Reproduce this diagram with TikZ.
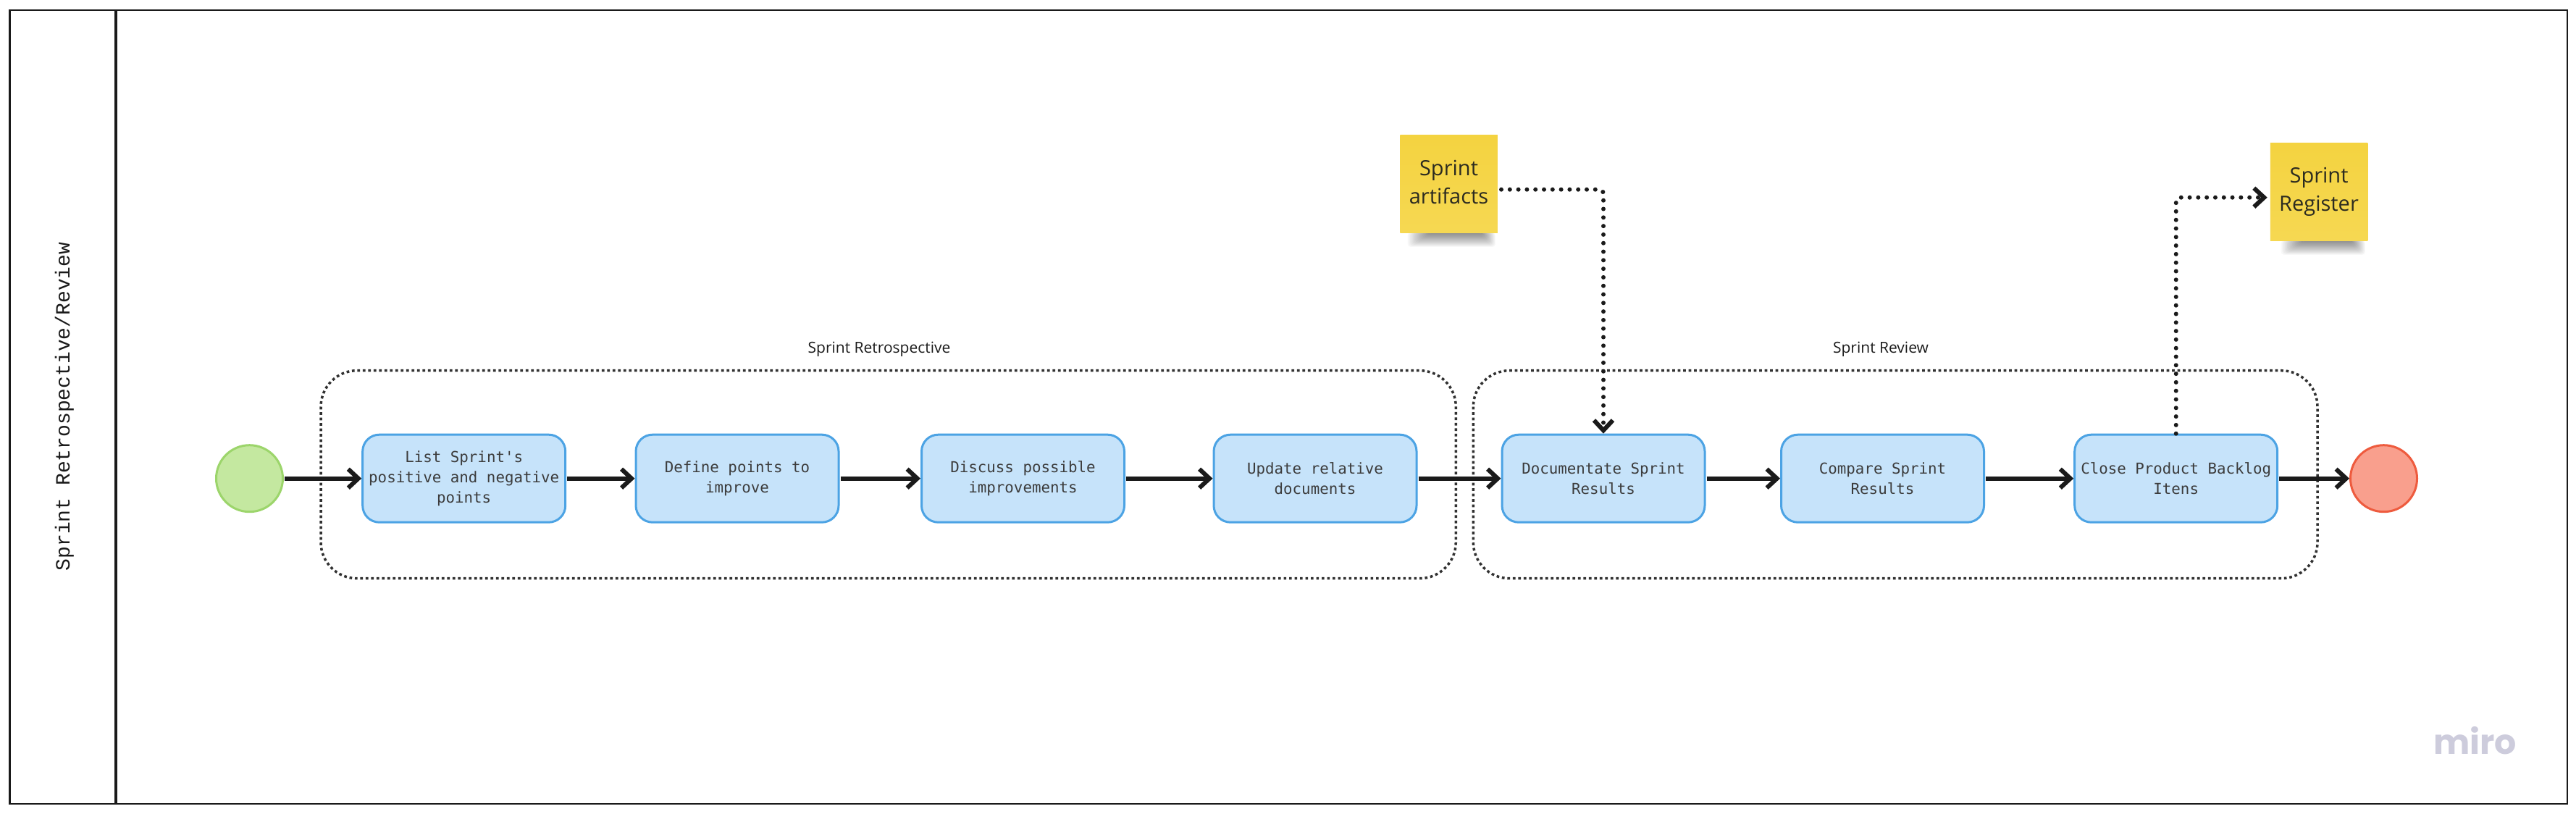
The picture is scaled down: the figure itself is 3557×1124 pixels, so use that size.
\documentclass[tikz,border=0pt]{standalone}
\usepackage{fontspec}
\setmainfont{Open Sans}
\setmonofont{DejaVu Sans Mono}
\newfontfamily\laneface{Liberation Mono}
\newfontfamily\miroface{Poppins}
\usetikzlibrary{arrows.meta}
\definecolor{ink}{HTML}{1A1A1A}
\definecolor{boxfill}{HTML}{C6E3FA}
\definecolor{boxline}{HTML}{4CA3E4}
\definecolor{startfill}{HTML}{C4E8A0}
\definecolor{startline}{HTML}{9CD56B}
\definecolor{endfill}{HTML}{F99F8D}
\definecolor{endline}{HTML}{EE5B3E}
\definecolor{notetop}{HTML}{F4D340}
\definecolor{notebot}{HTML}{F6D852}
\definecolor{notetext}{HTML}{2C2B20}
\definecolor{marklogo}{HTML}{CDCCDC}
\newcommand\stickytext[2]{\raisebox{6pt}{\begin{tabular}{@{}c@{}}#1\\#2\end{tabular}}}
\tikzset{
  frameline/.style={draw=ink,line width=2.8pt},
  laneline/.style={draw=ink,line width=4.5pt},
  taskbox/.style={draw=boxline,fill=boxfill,line width=3pt,rounded corners=23pt,minimum width=280pt,minimum height=121pt,inner sep=0pt,outer sep=1.5pt,align=center,text=ink!85,font=\ttfamily\fontsize{20.8}{28}\selectfont},
  startdot/.style={circle,draw=startline,fill=startfill,line width=3pt,minimum size=92pt,inner sep=0pt,outer sep=1.5pt},
  enddot/.style={circle,draw=endline,fill=endfill,line width=3pt,minimum size=92pt,inner sep=0pt,outer sep=1.5pt},
  note/.style={top color=notetop,bottom color=notebot,minimum width=134.5pt,minimum height=135pt,inner sep=0pt,outer sep=0pt,text=notetext,font=\fontsize{29}{38.5}\selectfont},
  grouplabel/.style={inner sep=0pt,text=ink,font=\fontsize{21}{26}\selectfont},
  groupbox/.style={draw=ink!90,line width=3.5pt,dash pattern=on 3.7pt off 3.8pt,rounded corners=50pt},
  flow/.style={draw=ink,line width=6pt,shorten <=1pt,-{Straight Barb[length=14pt,width=26pt,line width=6pt]}},
  dotflow/.style={draw=ink,line width=6pt,line cap=round,dash pattern=on 0pt off 11.8pt,rounded corners=6pt,-{Straight Barb[length=14pt,width=26pt,line width=6pt,line cap=butt]}},
}
\begin{document}
\begin{tikzpicture}[x=1pt,y=-1pt]
\useasboundingbox (0,0) rectangle (3557,1124);
\fill[white] (0,0) rectangle (3557,1124);
% lane frame
\draw[frameline] (13.3,14) rectangle (3545,1110);
\draw[laneline] (160,14) -- (160,1110);
\node[rotate=90,anchor=base,inner sep=0pt,text=ink,font=\laneface\fontsize{28}{32}\selectfont] (lane) at (96,561.5) {Sprint Retrospective/Review};
% groups
\draw[groupbox] (443,511.7) rectangle (2010.3,798.7);
\draw[groupbox] (2034.3,511.7) rectangle (3200,798.7);
\node[grouplabel] (g1) at (1214,482) {Sprint Retrospective};
\node[grouplabel] (g2) at (2597,482) {Sprint Review};
% note shadows
\foreach \k in {1,...,18}{
  \fill[black,opacity=0.028,rounded corners=4pt] ({1942+1.7*\k},321) rectangle ({2066-1.1*\k},{342-1.05*\k});
  \fill[black,opacity=0.028,rounded corners=4pt] ({3148+1.7*\k},332) rectangle ({3267-1.1*\k},{353-1.05*\k});
}
% notes
\node[note] (s1) at (2000.5,254.2) {\stickytext{Sprint}{artifacts}};
\node[note] (s2) at (3202,264.5) {\stickytext{Sprint}{Register}};
% tasks
\node[startdot] (start) at (344.5,660.7) {};
\node[taskbox] (b1) at (640.7,660.7) {List Sprint's\\positive and negative\\points};
\node[taskbox] (b2) at (1018,660.7) {Define points to\\improve};
\node[taskbox] (b3) at (1412.5,660.7) {Discuss possible\\improvements};
\node[taskbox] (b4) at (1816,660.7) {Update relative\\documents};
\node[taskbox] (b5) at (2214,660.7) {Documentate Sprint\\Results};
\node[taskbox] (b6) at (2599.5,660.7) {Compare Sprint\\Results};
\node[taskbox] (b7) at (3004.7,660.7) {Close Product Backlog\\Itens};
\node[enddot] (stop) at (3291.5,660.7) {};
% connectors
\draw[flow] (start) -- (b1);
\draw[flow] (b1) -- (b2);
\draw[flow] (b2) -- (b3);
\draw[flow] (b3) -- (b4);
\draw[flow] (b4) -- (b5);
\draw[flow] (b5) -- (b6);
\draw[flow] (b6) -- (b7);
\draw[flow] (b7) -- (stop);
\coordinate (s1port) at (2073,261.7);
\coordinate (s2port) at (3130.7,272.7);
\draw[dotflow] (s1port) -| (b5.north);
\draw[dotflow] (b7.north) |- (s2port);
% mark
\node[inner sep=0pt,anchor=base west,text=marklogo,font=\miroface\bfseries\fontsize{47.5}{52}\selectfont] (mark) at (3360,1041) {miro};
\end{tikzpicture}
\end{document}
